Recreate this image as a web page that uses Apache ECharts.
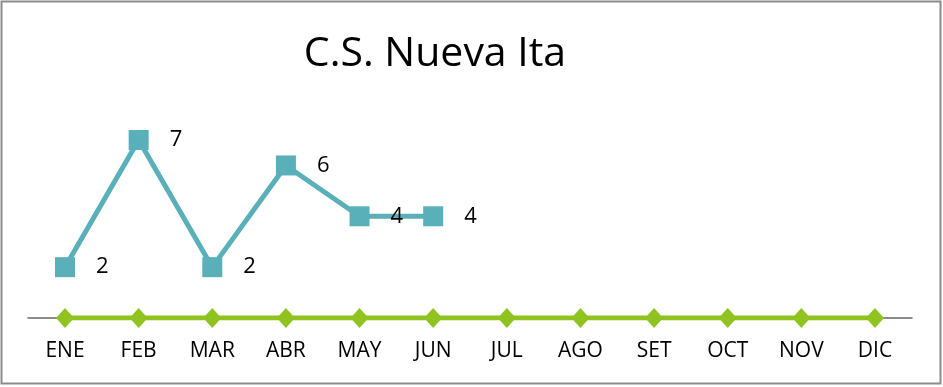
<!DOCTYPE html>
<html>
<head>
<meta charset="utf-8">
<script src="https://cdn.jsdelivr.net/npm/echarts@6/dist/echarts.min.js"></script>
<style>
  html, body { margin: 0; padding: 0; background: #fff; }
  #chart { width: 943px; height: 387px; }
</style>
</head>
<body>
<div id="chart"></div>
<script>
// Monthly counts
const months = ['ENE', 'FEB', 'MAR', 'ABR', 'MAY', 'JUN', 'JUL', 'AGO', 'SET', 'OCT', 'NOV', 'DIC'];
const attended = [2, 7, 2, 6, 4, 4];
const baseline = [0, 0, 0, 0, 0, 0, 0, 0, 0, 0, 0, 0];
const chartTitle = 'C.S. Nueva Ita';

const FONT = '"Open Sans", "Liberation Sans", sans-serif';

const chart = echarts.init(document.getElementById('chart'), null, { renderer: 'canvas' });
chart.setOption({
  animation: false,
  backgroundColor: '#ffffff',
  title: {
    text: chartTitle,
    left: 430,
    top: 29,
    textAlign: 'center',
    textStyle: { fontFamily: FONT, fontSize: 41, fontWeight: 'normal', color: '#000' }
  },
  graphic: [{
    type: 'rect',
    shape: { x: 1.5, y: 1.5, width: 939, height: 382 },
    style: { fill: 'none', stroke: '#8c8c8c', lineWidth: 2 },
    silent: true,
    z: 0
  }],
  grid: { left: 28.2, right: 31.2, top: 114.6, bottom: 69, containLabel: false },
  xAxis: {
    type: 'category',
    data: months,
    boundaryGap: true,
    axisLine: { show: true, lineStyle: { color: '#8c8c8c', width: 2 } },
    axisTick: { show: false },
    axisLabel: { fontFamily: FONT, fontSize: 21, color: '#000', margin: 23 }
  },
  yAxis: {
    type: 'value',
    min: 0,
    max: 8,
    interval: 1,
    show: false,
    splitLine: { show: false }
  },
  series: [
    {
      type: 'line',
      data: baseline,
      symbol: 'diamond',
      symbolSize: [18, 20],
      lineStyle: { color: '#8fc31f', width: 5 },
      itemStyle: { color: '#8fc31f' },
      z: 3
    },
    {
      type: 'line',
      data: attended,
      symbol: 'rect',
      symbolSize: 20,
      lineStyle: { color: '#5ab0b9', width: 5 },
      itemStyle: { color: '#5ab0b9' },
      label: {
        show: true,
        position: 'right',
        distance: 21,
        fontFamily: FONT,
        fontSize: 22,
        color: '#000'
      },
      z: 4
    }
  ]
});
</script>
</body>
</html>
